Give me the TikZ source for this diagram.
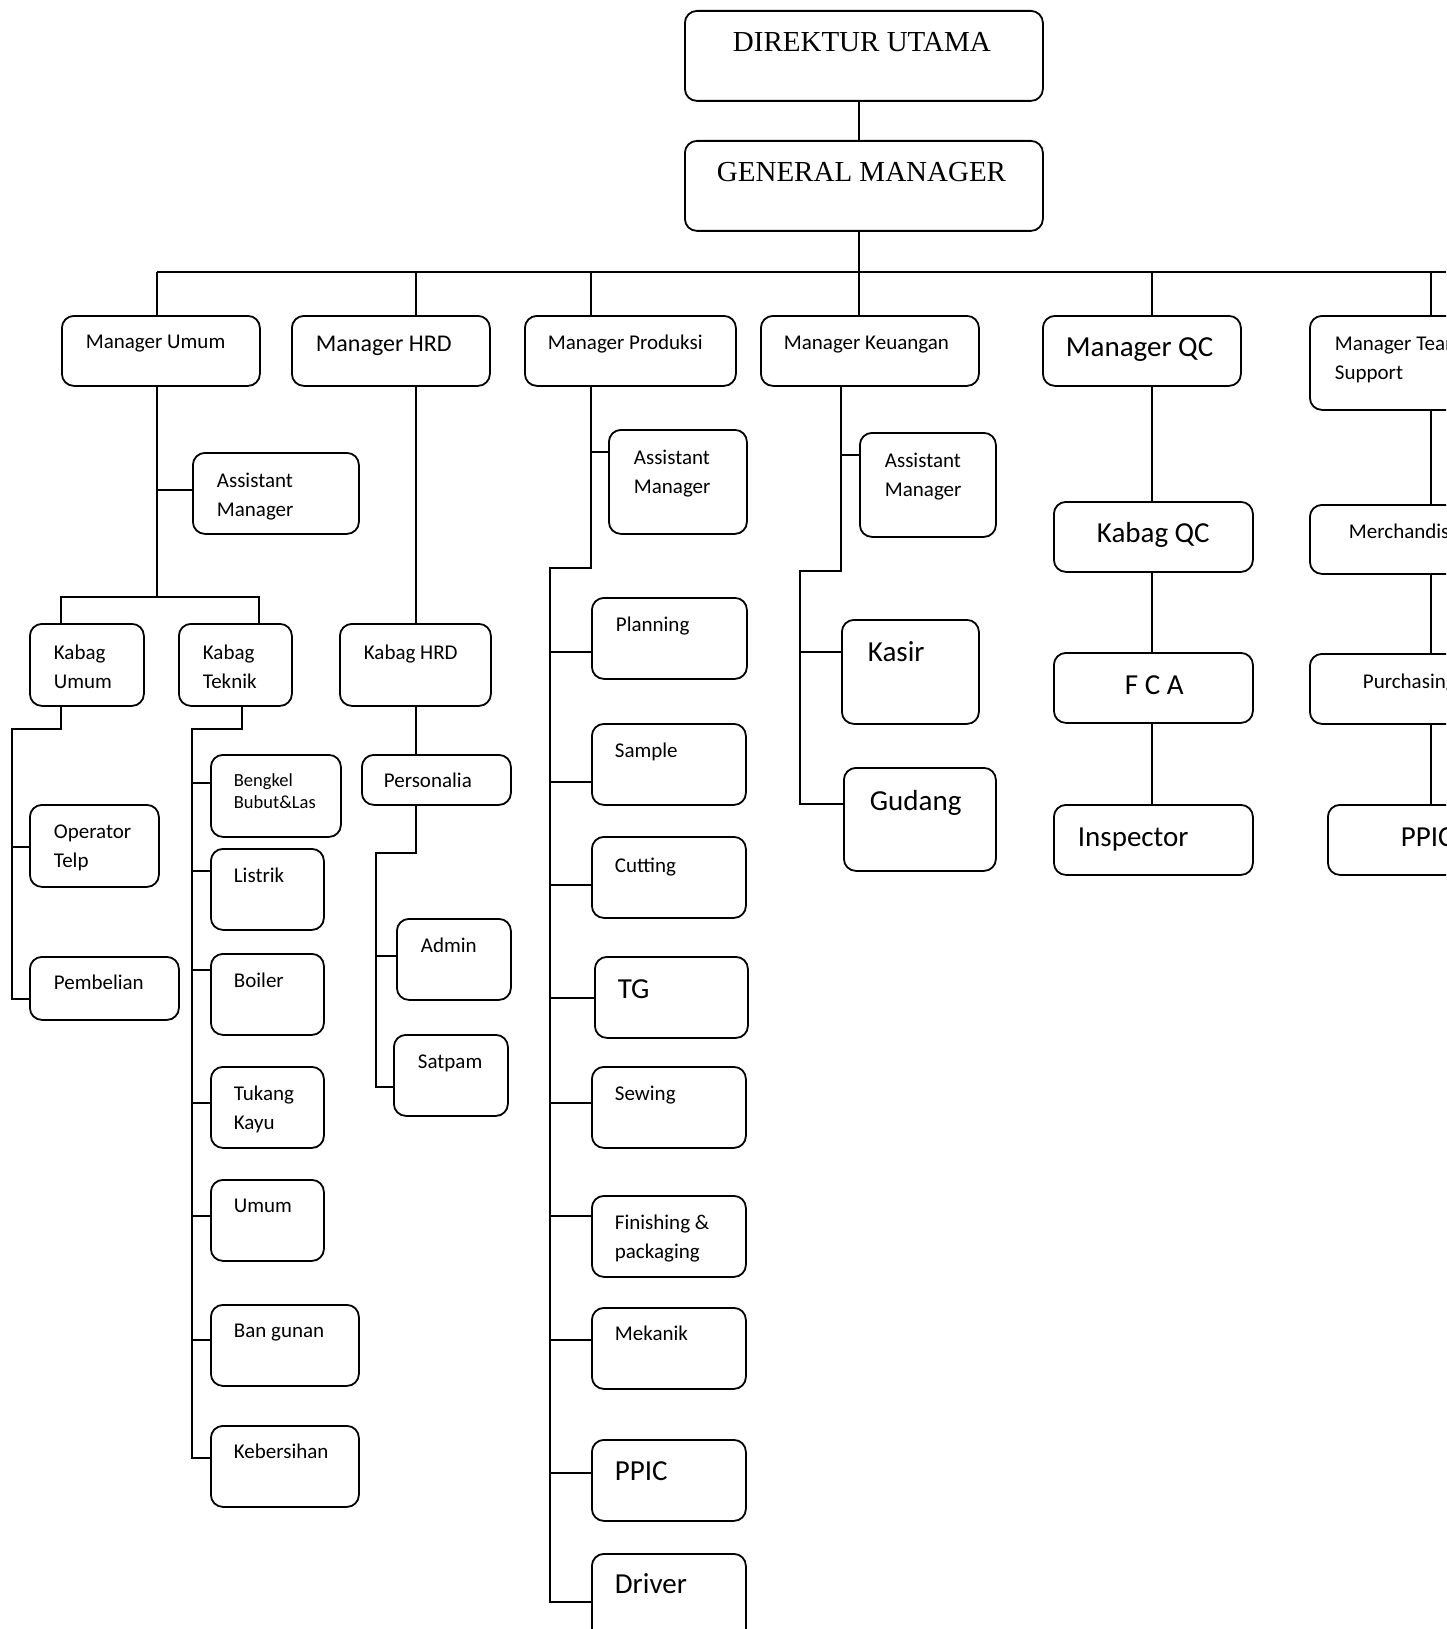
\documentclass[tikz,border=0pt]{standalone}
\usepackage{fontspec}
\setmainfont{Carlito}
\newfontfamily\serifx{Liberation Serif}
\tikzset{
  bx/.style={draw, rounded corners=12pt, inner sep=0pt},
  txt/.style={anchor=base west, inner sep=0pt},
  fs/.style={font=\fontsize{21}{29}\selectfont},
  fm/.style={font=\fontsize{24}{30}\selectfont},
  fl/.style={font=\fontsize{29}{35}\selectfont},
  fxs/.style={font=\fontsize{18.5}{22}\selectfont},
  fser/.style={font=\serifx\fontsize{29}{35}\selectfont},
}
\newcommand\bx[5]{\node[bx, anchor=north west, minimum width={#4-#2}, minimum height={#5-#3}] (#1) at (#2,#3) {};}
\newcommand\tx[5]{\node[txt,#4] (#1) at (#2,#3) {\begin{tabular}[t]{@{}l@{}}#5\end{tabular}};}
\newcommand\br[3]{\coordinate (#1j) at (#2,#3); \draw (#1j) -- (#1j -| #1.west);}
\begin{document}
\begin{tikzpicture}[x=1pt, y=-1pt, line width=1.8pt]
\useasboundingbox (0,0) rectangle (1446,1629);
\clip (0,0) rectangle (1446,1629);
\fill[white] (0,0) rectangle (1446,1629);
% ---------- boxes ----------
\bx{du}{684}{10}{1042}{100}
\bx{gm}{684}{140}{1042}{230}
\bx{mu}{61}{315}{259}{385}
\bx{mh}{291}{315}{489}{385}
\bx{mp}{524}{315}{735}{385}
\bx{mk}{760}{315}{978}{385}
\bx{mq}{1042}{315}{1240}{385}
\bx{mt}{1309}{315}{1507}{409}
% Umum
\bx{amU}{192}{452}{358}{533}
\bx{kU}{29}{623}{143}{705}
\bx{kT}{178}{623}{291}{705}
\bx{ot}{29}{804}{158}{886}
\bx{pb}{29}{956}{178}{1019}
\bx{bk}{210}{754}{340}{836}
\bx{ls}{210}{848}{323}{929}
\bx{bo}{210}{953}{323}{1034}
\bx{tk}{210}{1066}{323}{1147}
\bx{um}{210}{1179}{323}{1260}
\bx{bg}{210}{1304}{358}{1385}
\bx{kb}{210}{1425}{358}{1506}
% HRD
\bx{kH}{339}{623}{490}{705}
\bx{ps}{361}{754}{510}{804}
\bx{ad}{396}{918}{510}{999}
\bx{sp}{393}{1034}{507}{1115}
% Produksi
\bx{amP}{608}{429}{746}{533}
\bx{pl}{591}{597}{746}{678}
\bx{sa}{591}{723}{745}{804}
\bx{ct}{591}{836}{745}{917}
\bx{tg}{594}{956}{747}{1037}
\bx{sw}{591}{1066}{745}{1147}
\bx{fp}{591}{1195}{745}{1276}
\bx{mkn}{591}{1307}{745}{1388}
\bx{pp}{591}{1439}{745}{1520}
\bx{dr}{591}{1553}{745}{1660}
% Keuangan
\bx{amK}{859}{432}{995}{536}
\bx{ks}{841}{619}{978}{723}
\bx{gd}{843}{767}{995}{870}
% QC
\bx{kQ}{1053}{501}{1252}{571}
\bx{fca}{1053}{652}{1252}{722}
\bx{ins}{1053}{804}{1252}{874}
% Team support
\bx{me}{1309}{504}{1507}{573}
\bx{pu}{1309}{653}{1507}{723}
\bx{pr}{1327}{804}{1525}{874}
% ---------- texts ----------
\tx{du-t}{732}{52}{fser}{DIREKTUR UTAMA}
\tx{gm-t}{716}{182}{fser}{GENERAL MANAGER}
\tx{mu-t}{85}{348}{fs}{Manager Umum}
\tx{mh-t}{315}{351}{fm}{Manager HRD}
\tx{mp-t}{547}{349}{fs}{Manager Produksi}
\tx{mk-t}{783}{349}{fs}{Manager Keuangan}
\tx{mq-t}{1065}{356}{fl}{Manager QC}
\tx{mt-t}{1334}{350}{fs}{Manager Team\\Support}
\tx{amU-t}{216}{487}{fs}{Assistant\\Manager}
\tx{kU-t}{53}{659}{fs}{Kabag\\Umum}
\tx{kT-t}{202}{659}{fs}{Kabag\\Teknik}
\tx{ot-t}{53}{838}{fs}{Operator\\Telp}
\tx{pb-t}{53}{989}{fs}{Pembelian}
\tx{bk-t}{233}{786}{fxs}{Bengkel\\Bubut\&Las}
\tx{ls-t}{233}{882}{fs}{Listrik}
\tx{bo-t}{233}{987}{fs}{Boiler}
\tx{tk-t}{233}{1100}{fs}{Tukang\\Kayu}
\tx{um-t}{233}{1212}{fs}{Umum}
\tx{bg-t}{233}{1337}{fs}{Ban gunan}
\tx{kb-t}{233}{1458}{fs}{Kebersihan}
\tx{kH-t}{363}{659}{fs}{Kabag HRD}
\tx{ps-t}{383}{787}{fs}{Personalia}
\tx{ad-t}{420}{952}{fs}{Admin}
\tx{sp-t}{417}{1068}{fs}{Satpam}
\tx{amP-t}{633}{464}{fs}{Assistant\\Manager}
\tx{pl-t}{615}{631}{fs}{Planning}
\tx{sa-t}{614}{757}{fs}{Sample}
\tx{ct-t}{614}{872}{fs}{Cutting}
\tx{tg-t}{617}{998}{fl}{TG}
\tx{sw-t}{614}{1100}{fs}{Sewing}
\tx{fp-t}{614}{1229}{fs}{Finishing \&\\packaging}
\tx{mkn-t}{614}{1340}{fs}{Mekanik}
\tx{pp-t}{614}{1480}{fl}{PPIC}
\tx{dr-t}{614}{1593}{fl}{Driver}
\tx{amK-t}{884}{467}{fs}{Assistant\\Manager}
\tx{ks-t}{867}{661}{fl}{Kasir}
\tx{gd-t}{869}{810}{fl}{Gudang}
\tx{kQ-t}{1096}{542}{fl}{Kabag QC}
\tx{fca-t}{1124}{694}{fl}{F C A}
\tx{ins-t}{1077}{846}{fl}{Inspector}
\tx{me-t}{1348}{538}{fs}{Merchandiser}
\tx{pu-t}{1362}{688}{fs}{Purchasing}
\tx{pr-t}{1400}{846}{fl}{PPIC}
% ---------- connectors ----------
\coordinate (xg) at (859,0);
\coordinate (barL) at (157,272);
\coordinate (barR) at (1446,272);
\coordinate (xU) at (157,0);
\coordinate (xH) at (416,0);
\coordinate (xP) at (591,0);
\coordinate (xQ) at (1152,0);
\coordinate (xT) at (1431,0);
\draw (du.south -| xg) -- (gm.north -| xg);
\draw (gm.south -| xg) -- (xg |- barL);
\draw (barL) -- (barR);
\draw (xU |- barL) -- (xU |- mu.north);
\draw (xH |- barL) -- (xH |- mh.north);
\draw (xP |- barL) -- (xP |- mp.north);
\draw (xg |- barL) -- (xg |- mk.north);
\draw (xQ |- barL) -- (xQ |- mq.north);
\draw (xT |- barL) -- (xT |- mt.north);
% Umum
\coordinate (kbL) at (61,597);
\coordinate (kbR) at (259,597);
\draw (xU |- mu.south) -- (xU |- kbL);
\draw (kbL |- kU.north) -- (kbL) -- (kbR) -- (kbR |- kT.north);
\br{amU}{157}{490}
\coordinate (uTurn) at (61,729);
\coordinate (uTurn2) at (12,729);
\coordinate (pbj) at (12,999);
\draw (uTurn |- kU.south) -- (uTurn) -- (uTurn2) -- (pbj) -- (pbj -| pb.west);
\br{ot}{12}{847}
\coordinate (tTurn) at (242,729);
\coordinate (tTurn2) at (192,729);
\coordinate (kbj) at (192,1458);
\draw (tTurn |- kT.south) -- (tTurn) -- (tTurn2) -- (kbj) -- (kbj -| kb.west);
\br{bk}{192}{783}
\br{ls}{192}{871}
\br{bo}{192}{970}
\br{tk}{192}{1103}
\br{um}{192}{1216}
\br{bg}{192}{1340}
% HRD
\draw (xH |- mh.south) -- (xH |- kH.north);
\draw (xH |- kH.south) -- (xH |- ps.north);
\coordinate (hTurn) at (416,853);
\coordinate (hTurn2) at (376,853);
\coordinate (spj) at (376,1087);
\draw (xH |- ps.south) -- (hTurn) -- (hTurn2) -- (spj) -- (spj -| sp.west);
\br{ad}{376}{956}
% Produksi
\coordinate (pTurn) at (591,568);
\coordinate (pTurn2) at (550,568);
\coordinate (drj) at (550,1602);
\draw (xP |- mp.south) -- (pTurn) -- (pTurn2) -- (drj) -- (drj -| dr.west);
\br{amP}{591}{452}
\br{pl}{550}{652}
\br{sa}{550}{782}
\br{ct}{550}{885}
\br{tg}{550}{998}
\br{sw}{550}{1103}
\br{fp}{550}{1216}
\br{mkn}{550}{1340}
\br{pp}{550}{1473}
% Keuangan
\coordinate (xK2) at (841,0);
\coordinate (kTurn) at (841,571);
\coordinate (kTurn2) at (800,571);
\coordinate (gdj) at (800,804);
\draw (xK2 |- mk.south) -- (kTurn) -- (kTurn2) -- (gdj) -- (gdj -| gd.west);
\br{amK}{841}{455}
\br{ks}{800}{652}
% QC
\draw (xQ |- mq.south) -- (xQ |- kQ.north);
\draw (xQ |- kQ.south) -- (xQ |- fca.north);
\draw (xQ |- fca.south) -- (xQ |- ins.north);
% Team support
\draw (xT |- mt.south) -- (xT |- me.north);
\draw (xT |- me.south) -- (xT |- pu.north);
\draw (xT |- pu.south) -- (xT |- pr.north);
\end{tikzpicture}
\end{document}
